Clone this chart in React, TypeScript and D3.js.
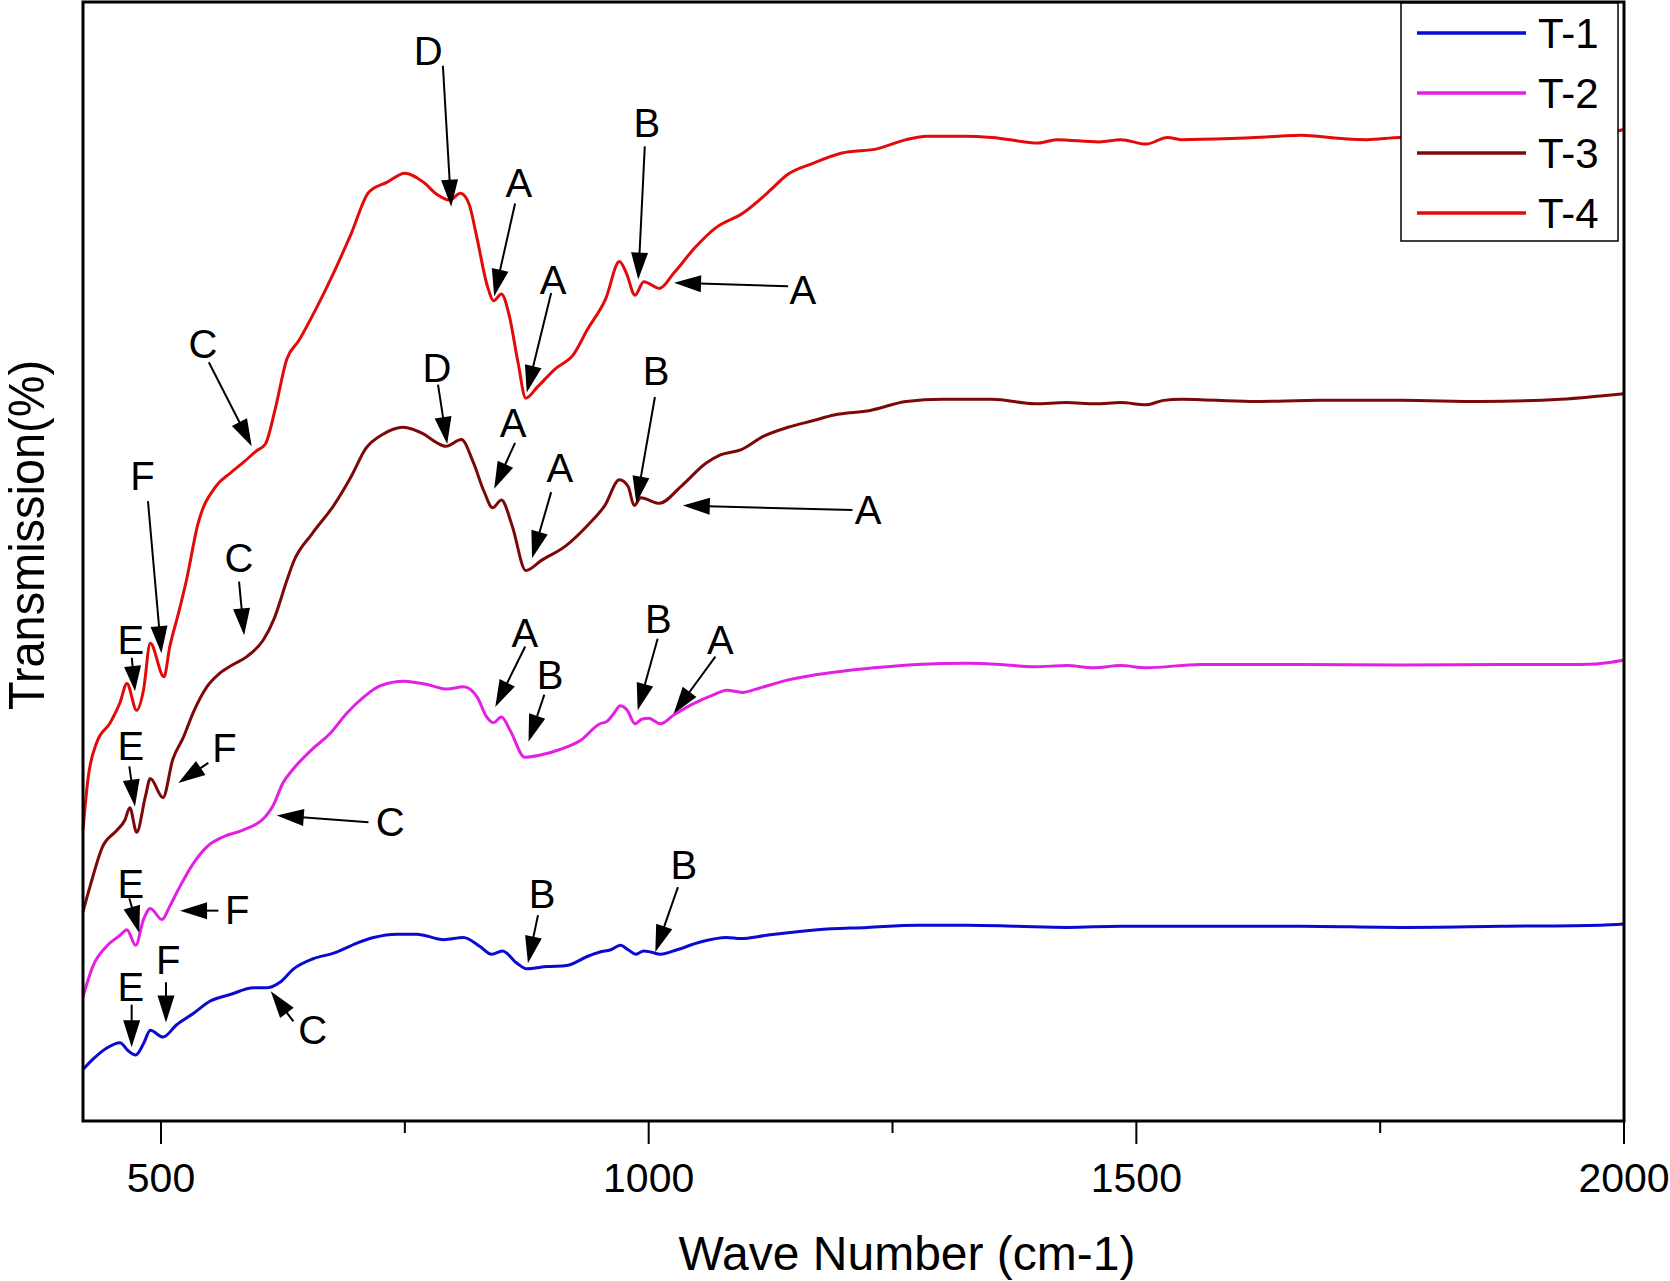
import React from 'react';
import * as d3 from 'd3';

// wave number (cm-1), transmission (arbitrary, 0-100 over the plot height)
const t1: [number, number][] = [
  [420, 4.6], [430, 5.5], [444, 6.5], [458, 7.0], [466, 6.3], [474, 5.9], [482, 6.9], [489, 8.1],
  [502, 7.5], [516, 8.6], [533, 9.6], [550, 10.7], [571, 11.3], [595, 11.9], [608, 11.9], [622, 12.4],
  [636, 13.6], [656, 14.5], [677, 15.0], [701, 15.9], [718, 16.4], [742, 16.7], [762, 16.7], [790, 16.2],
  [810, 16.4], [827, 15.6], [839, 14.9], [850, 15.2], [865, 14.1], [875, 13.6], [896, 13.8], [916, 13.9],
  [937, 14.7], [950, 15.1], [961, 15.3], [971, 15.7], [979, 15.3], [987, 14.9], [995, 15.2], [1002, 15.1],
  [1012, 14.9], [1029, 15.3], [1053, 16.0], [1080, 16.4], [1094, 16.3], [1121, 16.6], [1173, 17.1],
  [1224, 17.3], [1275, 17.5], [1327, 17.5], [1378, 17.4], [1429, 17.3], [1484, 17.4], [1566, 17.4],
  [1668, 17.4], [1771, 17.3], [1874, 17.4], [1976, 17.5], [2000, 17.6],
];

const t2: [number, number][] = [
  [420, 11.1], [430, 13.8], [444, 15.6], [458, 16.6], [465, 17.1], [474, 15.7], [482, 18.0], [489, 19.0],
  [501, 18.0], [509, 19.2], [519, 20.9], [533, 23.0], [547, 24.5], [564, 25.4], [584, 26.0], [607, 27.2],
  [615, 28.2], [625, 30.2], [636, 31.5], [656, 33.3], [673, 34.6], [690, 36.4], [708, 37.9], [725, 38.9],
  [749, 39.3], [773, 39.0], [793, 38.6], [810, 38.8], [824, 37.9], [834, 36.1], [841, 35.6], [849, 36.1],
  [858, 34.9], [873, 32.5], [889, 32.7], [909, 33.2], [930, 34.0], [950, 35.5], [957, 35.7], [964, 36.4],
  [971, 37.1], [978, 36.7], [986, 35.5], [993, 35.9], [1000, 36.0], [1012, 35.5], [1026, 36.3],
  [1046, 37.3], [1067, 38.1], [1080, 38.5], [1096, 38.3], [1114, 38.7], [1142, 39.4], [1190, 40.1],
  [1231, 40.5], [1275, 40.8], [1327, 40.9], [1361, 40.8], [1395, 40.6], [1429, 40.7], [1456, 40.5],
  [1484, 40.7], [1510, 40.5], [1566, 40.8], [1668, 40.8], [1771, 40.75], [1874, 40.8], [1956, 40.8],
  [1987, 41.0], [2000, 41.2],
];

const t3: [number, number][] = [
  [420, 18.7], [427, 20.9], [440, 24.5], [455, 26.0], [463, 26.9], [468, 28.0], [475, 25.8], [484, 29.0],
  [489, 30.6], [502, 28.9], [512, 32.3], [523, 34.3], [533, 36.5], [547, 38.8], [560, 40.0], [574, 40.8],
  [588, 41.5], [605, 43.0], [616, 44.9], [629, 48.3], [636, 50.0], [655, 52.5], [677, 55.0], [695, 57.6],
  [710, 60.1], [728, 61.4], [748, 62.0], [769, 61.4], [783, 60.6], [792, 60.3], [808, 60.9], [820, 58.9],
  [831, 56.3], [840, 54.8], [849, 55.5], [860, 53.2], [874, 49.2], [890, 50.1], [915, 51.4], [937, 53.2],
  [955, 55.0], [970, 57.3], [979, 56.7], [985, 55.0], [992, 55.7], [1011, 55.2], [1033, 56.7],
  [1059, 58.8], [1073, 59.5], [1095, 60.0], [1118, 61.2], [1143, 62.0], [1169, 62.6], [1190, 63.1],
  [1227, 63.5], [1264, 64.3], [1301, 64.5], [1352, 64.5], [1396, 64.1], [1428, 64.2], [1458, 64.1],
  [1484, 64.2], [1510, 64.0], [1528, 64.4], [1546, 64.5], [1617, 64.3], [1689, 64.4], [1771, 64.4],
  [1853, 64.3], [1935, 64.5], [1976, 64.8], [2000, 65.0],
];

const t4: [number, number][] = [
  [420, 26.0], [425, 30.5], [434, 33.8], [448, 35.6], [458, 37.4], [465, 39.1], [475, 36.7], [482, 38.5],
  [489, 42.7], [503, 39.7], [509, 42.4], [518, 45.4], [526, 48.3], [538, 53.4], [556, 56.7], [571, 57.9],
  [585, 58.9], [598, 59.9], [607, 60.5], [617, 63.6], [629, 68.1], [641, 69.7], [659, 72.6], [677, 75.8],
  [695, 79.3], [713, 83.0], [732, 83.9], [750, 84.7], [769, 83.9], [783, 82.8], [796, 82.3], [807, 82.9],
  [816, 81.9], [823, 79.3], [835, 74.5], [841, 73.3], [849, 73.9], [857, 72.0], [866, 67.8], [874, 64.6],
  [886, 65.6], [904, 67.2], [923, 68.5], [937, 70.7], [956, 73.5], [970, 76.8], [977, 75.8], [986, 73.8],
  [995, 75.0], [1011, 74.4], [1026, 75.8], [1048, 78.1], [1070, 79.9], [1096, 81.1], [1125, 83.2],
  [1141, 84.5], [1169, 85.6], [1198, 86.5], [1235, 86.9], [1264, 87.7], [1286, 88.0], [1323, 88.0],
  [1352, 87.9], [1400, 87.4], [1418, 87.7], [1462, 87.5], [1484, 87.7], [1510, 87.3], [1532, 87.9],
  [1546, 87.7], [1597, 87.8], [1646, 88.0], [1669, 88.1], [1710, 87.8], [1737, 87.7], [1771, 87.9],
  [1823, 87.8], [1874, 87.9], [1935, 88.0], [1976, 88.2], [2000, 88.6],
];

const seriesNames = ['T-1', 'T-2', 'T-3', 'T-4'];
const seriesColors = ['#0a0ad2', '#e41fe4', '#7d0808', '#e30a0a'];
const seriesData = [t1, t2, t3, t4];

const majorTicks = [500, 1000, 1500, 2000];
const minorTicks = [750, 1250, 1750];

// peak labels: text centre, arrow tail, arrow tip (all in data units)
const notes: { label: string; text: [number, number]; from: [number, number]; to: [number, number] }[] = [
  // T-4
  { label: 'D', text: [774, 95.6], from: [789, 94.3], to: [797.5, 81.7] },
  { label: 'A', text: [867, 83.8], from: [863, 82.0], to: [841.6, 73.7] },
  { label: 'A', text: [902, 75.2], from: [900, 74.0], to: [875, 65.1] },
  { label: 'B', text: [998, 89.2], from: [996, 87.1], to: [989.3, 75.2] },
  { label: 'A', text: [1158, 74.3], from: [1143, 74.6], to: [1026, 74.9] },
  { label: 'C', text: [543, 69.4], from: [549, 67.8], to: [593, 60.3] },
  { label: 'F', text: [481, 57.6], from: [486.6, 55.4], to: [500.4, 41.8] },
  { label: 'E', text: [469, 43.0], from: [470, 41.4], to: [473.3, 38.4] },
  // T-3
  { label: 'D', text: [783, 67.3], from: [784, 65.8], to: [793.4, 60.5] },
  { label: 'A', text: [861, 62.4], from: [863, 60.6], to: [841.6, 56.5] },
  { label: 'A', text: [909, 58.4], from: [900, 56.2], to: [880.4, 50.3] },
  { label: 'B', text: [1007.5, 67.0], from: [1006.4, 64.7], to: [987.3, 55.2] },
  { label: 'A', text: [1225, 54.6], from: [1209, 54.6], to: [1035, 55.0] },
  { label: 'C', text: [580, 50.3], from: [580, 48.2], to: [585.2, 43.4] },
  { label: 'F', text: [565, 33.3], from: [548.5, 32.0], to: [517.7, 30.2] },
  { label: 'E', text: [469, 33.5], from: [467.5, 31.7], to: [473.3, 28.1] },
  // T-2
  { label: 'A', text: [873, 43.6], from: [873.4, 42.4], to: [842.7, 37.0] },
  { label: 'B', text: [899, 39.9], from: [893, 38.1], to: [876.8, 33.9] },
  { label: 'B', text: [1010, 44.9], from: [1009.2, 43.1], to: [988.7, 36.7] },
  { label: 'A', text: [1073.5, 43.0], from: [1068.4, 41.5], to: [1025.6, 36.4] },
  { label: 'C', text: [735, 26.7], from: [712.7, 26.7], to: [618.7, 27.3] },
  { label: 'F', text: [578, 18.9], from: [558.8, 18.8], to: [519.5, 18.8] },
  { label: 'E', text: [469, 21.2], from: [467.5, 19.9], to: [477.7, 16.8] },
  // T-1
  { label: 'B', text: [890.6, 20.3], from: [886.5, 18.4], to: [876.2, 14.1] },
  { label: 'B', text: [1036, 22.9], from: [1030, 20.9], to: [1006.8, 15.1] },
  { label: 'C', text: [655.6, 8.1], from: [635.7, 8.9], to: [612.5, 11.6] },
  { label: 'F', text: [507.5, 14.4], from: [505.1, 12.4], to: [505.1, 8.8] },
  { label: 'E', text: [469, 12.0], from: [469.9, 10.4], to: [469.9, 6.6] },
];

const W = 1670;
const H = 1281;
const plot = { left: 83, right: 1624, top: 2, bottom: 1121 };
const font = '"Liberation Sans", Arial, Helvetica, sans-serif';

const x = d3.scaleLinear().domain([420, 2000]).range([plot.left, plot.right]);
const y = d3.scaleLinear().domain([0, 100]).range([plot.bottom, plot.top]);

const line = d3.line<[number, number]>()
  .x(d => x(d[0]))
  .y(d => y(d[1]))
  .curve(d3.curveMonotoneX);

function Arrow({ from, to }: { from: [number, number]; to: [number, number] }) {
  const x1 = x(from[0]), y1 = y(from[1]);
  const x2 = x(to[0]), y2 = y(to[1]);
  const dx = x2 - x1, dy = y2 - y1;
  const len = Math.hypot(dx, dy) || 1;
  const ux = dx / len, uy = dy / len;
  const headLen = Math.min(27, len * 0.75);
  const headW = 8.5;
  const bx = x2 - ux * headLen, by = y2 - uy * headLen;
  const pts = [
    [x2, y2],
    [bx - uy * headW, by + ux * headW],
    [bx + uy * headW, by - ux * headW],
  ].map(p => p.join(',')).join(' ');
  return (
    <g>
      <line x1={x1} y1={y1} x2={bx + ux * 2} y2={by + uy * 2} stroke="#000" strokeWidth={2} />
      <polygon points={pts} fill="#000" />
    </g>
  );
}

export default function App() {
  return (
    <div style={{ width: W, height: H }}>
      <style>{`body{margin:0}`}</style>
      <svg width={W} height={H} style={{ display: 'block', background: '#fff' }}>
        {/* spectra */}
        {seriesData.map((s, i) => (
          <path key={i} d={line(s) || ''} fill="none" stroke={seriesColors[i]} strokeWidth={3}
            strokeLinejoin="round" />
        ))}

        {/* annotations */}
        {notes.map((n, i) => (
          <g key={i}>
            <Arrow from={n.from} to={n.to} />
            <text x={x(n.text[0])} y={y(n.text[1])} textAnchor="middle" dominantBaseline="central"
              fontFamily={font} fontSize={40} fill="#000">{n.label}</text>
          </g>
        ))}

        {/* frame */}
        <rect x={plot.left} y={plot.top} width={plot.right - plot.left} height={plot.bottom - plot.top}
          fill="none" stroke="#000" strokeWidth={3} />

        {/* x ticks */}
        {majorTicks.map(t => (
          <g key={t}>
            <line x1={x(t)} x2={x(t)} y1={plot.bottom} y2={plot.bottom + 23} stroke="#000" strokeWidth={2} />
            <text x={x(t)} y={plot.bottom + 71} textAnchor="middle" fontFamily={font} fontSize={41}>{t}</text>
          </g>
        ))}
        {minorTicks.map(t => (
          <line key={t} x1={x(t)} x2={x(t)} y1={plot.bottom} y2={plot.bottom + 12} stroke="#000" strokeWidth={2} />
        ))}

        {/* axis titles */}
        <text x={907} y={1270} textAnchor="middle" fontFamily={font} fontSize={48}>Wave Number (cm-1)</text>
        <text transform={`translate(44,535) rotate(-90)`} textAnchor="middle" fontFamily={font} fontSize={50}
          textLength={350} lengthAdjust="spacingAndGlyphs">
          Transmission(%)
        </text>

        {/* legend */}
        <rect x={1401} y={3} width={217} height={238} fill="#fff" stroke="#000" strokeWidth={1.5} />
        {seriesNames.map((name, i) => (
          <g key={name}>
            <line x1={1417} x2={1526} y1={33 + i * 60} y2={33 + i * 60} stroke={seriesColors[i]} strokeWidth={3.5} />
            <text x={1538} y={33 + i * 60 + 15} fontFamily={font} fontSize={42}>{name}</text>
          </g>
        ))}
      </svg>
    </div>
  );
}
